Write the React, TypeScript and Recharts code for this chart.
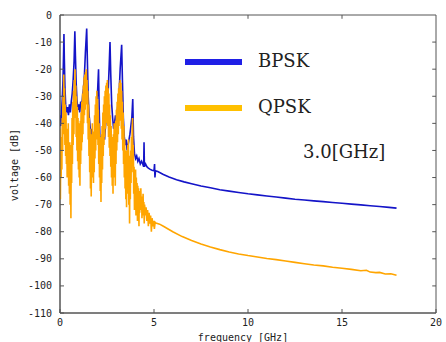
import React from 'react';
import { LineChart, Line, XAxis, YAxis, ReferenceArea, ReferenceLine } from 'recharts';

// BPSK spectrum, 0-5 GHz (spiky part) [GHz, dB]
const bpskLow: [number, number][] = [
  [0.0, -37], [0.04, -41], [0.08, -36], [0.12, -31], [0.16, -24], [0.19, -14], [0.21, -7], [0.23, -16],
  [0.26, -26], [0.3, -33], [0.35, -36], [0.4, -34], [0.45, -37], [0.5, -33], [0.55, -36], [0.6, -32],
  [0.65, -29], [0.7, -24], [0.75, -17], [0.79, -6], [0.82, -15], [0.86, -25], [0.9, -31], [0.95, -35],
  [1.0, -33], [1.05, -36], [1.1, -32], [1.15, -34], [1.2, -30], [1.25, -27], [1.3, -22], [1.35, -14],
  [1.42, -5], [1.46, -18], [1.5, -30], [1.55, -37], [1.6, -41], [1.65, -45], [1.7, -42], [1.75, -47],
  [1.8, -49], [1.85, -45], [1.9, -40], [1.95, -34], [2.0, -28], [2.05, -20], [2.08, -33], [2.12, -45],
  [2.17, -49], [2.22, -51], [2.27, -47], [2.32, -44], [2.37, -46], [2.42, -41], [2.47, -38], [2.52, -33],
  [2.57, -27], [2.62, -18], [2.66, -10], [2.7, -22], [2.75, -33], [2.8, -38], [2.85, -42], [2.9, -40],
  [2.95, -37], [3.0, -39], [3.05, -35], [3.1, -32], [3.15, -28], [3.2, -20], [3.28, -11], [3.32, -24],
  [3.37, -38], [3.42, -45], [3.47, -48], [3.52, -46], [3.57, -50], [3.62, -48], [3.67, -46], [3.72, -44],
  [3.77, -41], [3.82, -38], [3.87, -31], [3.91, -45], [3.96, -51], [4.02, -53], [4.08, -52], [4.14, -54],
  [4.2, -53], [4.27, -55], [4.34, -54], [4.4, -55], [4.45, -56], [4.47, -47], [4.49, -56], [4.55, -55],
  [4.62, -56], [4.7, -56.5], [4.8, -57], [4.9, -57.3], [5.0, -57.5], [5.03, -55], [5.05, -60], [5.08, -57.5],
];

// BPSK smooth tail
const bpskTail: [number, number][] = [
  [5.2, -57.8], [5.5, -58.9], [5.8, -59.8], [6.2, -60.8], [6.6, -61.6], [7.0, -62.3], [7.5, -63.1],
  [8.0, -63.8], [8.5, -64.5], [9.0, -65.0], [9.5, -65.5], [10.0, -66.0], [10.5, -66.4], [11.0, -66.8],
  [11.5, -67.2], [12.0, -67.6], [12.5, -68.0], [13.0, -68.3], [13.5, -68.6], [14.0, -68.9], [14.5, -69.2],
  [15.0, -69.5], [15.5, -69.8], [16.0, -70.1], [16.5, -70.4], [17.0, -70.7], [17.5, -71.0], [17.9, -71.3],
];

// QPSK spectrum, 0-5 GHz (noisy part)
const qpskLow: [number, number][] = [
  [0.0, -42], [0.02, -68], [0.04, -48], [0.06, -60], [0.08, -45], [0.1, -57], [0.12, -38], [0.14, -50],
  [0.16, -30], [0.18, -44], [0.2, -22], [0.22, -40], [0.24, -27], [0.26, -48], [0.28, -33], [0.3, -52],
  [0.32, -36], [0.34, -55], [0.36, -42], [0.38, -60], [0.4, -45], [0.42, -58], [0.44, -40], [0.46, -63],
  [0.48, -50], [0.5, -66], [0.52, -47], [0.54, -70], [0.56, -52], [0.58, -75], [0.6, -48], [0.62, -62],
  [0.64, -38], [0.66, -55], [0.68, -32], [0.7, -48], [0.72, -28], [0.74, -44], [0.76, -24], [0.78, -38],
  [0.8, -20], [0.82, -36], [0.84, -26], [0.86, -45], [0.88, -30], [0.9, -50], [0.92, -34], [0.94, -54],
  [0.96, -38], [0.98, -57], [1.0, -40], [1.02, -60], [1.04, -42], [1.06, -63], [1.08, -39], [1.1, -55],
  [1.12, -36], [1.14, -50], [1.16, -32], [1.18, -47], [1.2, -29], [1.22, -44], [1.24, -26], [1.26, -40],
  [1.28, -23], [1.3, -37], [1.32, -22], [1.34, -35], [1.36, -21], [1.38, -33], [1.4, -20], [1.42, -30],
  [1.44, -24], [1.46, -40], [1.48, -28], [1.5, -46], [1.52, -33], [1.54, -52], [1.56, -38], [1.58, -58],
  [1.6, -42], [1.62, -64], [1.64, -46], [1.66, -67], [1.68, -44], [1.7, -60], [1.72, -40], [1.74, -56],
  [1.76, -43], [1.78, -62], [1.8, -45], [1.82, -58], [1.84, -37], [1.86, -53], [1.88, -33], [1.9, -50],
  [1.92, -30], [1.94, -46], [1.96, -28], [1.98, -44], [2.0, -31], [2.02, -48], [2.04, -35], [2.06, -55],
  [2.08, -40], [2.1, -60], [2.12, -45], [2.14, -65], [2.16, -48], [2.18, -69], [2.2, -44], [2.22, -62],
  [2.24, -41], [2.26, -57], [2.28, -36], [2.3, -52], [2.32, -33], [2.34, -48], [2.36, -30], [2.38, -45],
  [2.4, -28], [2.42, -42], [2.44, -26], [2.46, -40], [2.48, -25], [2.5, -38], [2.52, -24], [2.54, -41],
  [2.56, -27], [2.58, -45], [2.6, -29], [2.62, -49], [2.64, -33], [2.66, -52], [2.68, -37], [2.7, -56],
  [2.72, -41], [2.74, -60], [2.76, -45], [2.78, -63], [2.8, -47], [2.82, -66], [2.84, -44], [2.86, -60],
  [2.88, -40], [2.9, -57], [2.92, -42], [2.94, -63], [2.96, -39], [2.98, -55], [3.0, -35], [3.02, -50],
  [3.04, -32], [3.06, -47], [3.08, -29], [3.1, -44], [3.12, -27], [3.14, -41], [3.16, -25], [3.18, -39],
  [3.2, -24], [3.22, -38], [3.24, -25], [3.26, -42], [3.28, -28], [3.3, -46], [3.32, -32], [3.34, -50],
  [3.36, -36], [3.38, -55], [3.4, -41], [3.42, -60], [3.44, -46], [3.46, -64], [3.48, -50], [3.5, -68],
  [3.52, -53], [3.54, -71], [3.56, -50], [3.58, -66], [3.6, -48], [3.62, -62], [3.64, -46], [3.66, -70],
  [3.68, -52], [3.7, -77], [3.72, -55], [3.74, -68], [3.76, -50], [3.78, -62], [3.8, -45], [3.82, -58],
  [3.84, -42], [3.86, -38], [3.88, -55], [3.9, -48], [3.92, -66], [3.94, -56], [3.96, -72], [3.98, -58],
  [4.0, -68], [4.02, -57], [4.04, -74], [4.06, -60], [4.08, -70], [4.1, -62], [4.12, -76], [4.14, -63],
  [4.16, -72], [4.18, -64], [4.2, -78], [4.22, -65], [4.24, -73], [4.26, -66], [4.28, -70], [4.3, -64],
  [4.32, -72], [4.34, -67], [4.36, -75], [4.38, -68], [4.4, -71], [4.42, -66], [4.44, -74], [4.46, -69],
  [4.48, -77], [4.5, -70], [4.54, -74], [4.58, -71], [4.62, -76], [4.66, -72], [4.7, -78], [4.74, -73],
  [4.78, -77], [4.82, -74], [4.86, -80], [4.9, -75], [4.94, -78], [4.98, -76], [5.02, -79], [5.06, -76.5],
];

// QPSK smooth tail
const qpskTail: [number, number][] = [
  [5.1, -76.8], [5.3, -77.2], [5.5, -78.0], [5.75, -79.0], [6.0, -80.0], [6.5, -81.8], [7.0, -83.2],
  [7.5, -84.5], [8.0, -85.6], [8.5, -86.6], [9.0, -87.5], [9.5, -88.2], [10.0, -88.8], [10.5, -89.3],
  [11.0, -89.9], [11.5, -90.3], [12.0, -90.8], [12.5, -91.3], [13.0, -91.8], [13.5, -92.3], [14.0, -92.6],
  [14.5, -93.1], [15.0, -93.5], [15.5, -93.9], [16.0, -94.4], [16.3, -94.2], [16.5, -94.9], [16.8, -95.1],
  [17.0, -95.0], [17.3, -95.6], [17.6, -95.5], [17.9, -96.1],
];

const xTicks = [0, 5, 10, 15, 20];
const yTicks = [0, -10, -20, -30, -40, -50, -60, -70, -80, -90, -100, -110];
const X_MAX = 20;
const Y_MIN = -110;
const Y_MAX = 0;

const toRows = (pts: [number, number][]) => pts.map(([f, v]) => ({ f, v }));
const bpsk = toRows([...bpskLow, ...bpskTail]);
const qpsk = toRows([...qpskLow, ...qpskTail]);

const AXIS = '#555';
const tickFont = { fontFamily: 'DejaVu Sans Mono', fontSize: 10, fill: '#222' };

export default function App() {
  return (
    <div style={{ position: 'absolute', left: 0, top: 0, width: 446, height: 342, background: '#fff' }}>
      <LineChart width={446} height={342} margin={{ top: 15, right: 10, bottom: 0, left: 0 }}>
        <XAxis
          dataKey="f"
          type="number"
          domain={[0, X_MAX]}
          ticks={xTicks}
          height={29}
          tickSize={-4}
          tickMargin={10}
          stroke={AXIS}
          tick={tickFont}
          allowDataOverflow
        />
        <YAxis
          dataKey="v"
          type="number"
          domain={[Y_MIN, Y_MAX]}
          ticks={yTicks}
          width={60}
          tickSize={-4}
          tickMargin={12}
          stroke={AXIS}
          tick={tickFont}
          allowDataOverflow
        />
        {/* box frame with small inward ticks on top and right */}
        <ReferenceArea x1={0} x2={X_MAX} y1={Y_MIN} y2={Y_MAX} fill="none" stroke={AXIS} strokeWidth={1} />
        {xTicks.slice(1, -1).map((t) => (
          <ReferenceLine
            key={`tx${t}`}
            segment={[{ x: t, y: Y_MAX }, { x: t, y: Y_MAX - 1.4 }]}
            stroke={AXIS}
          />
        ))}
        {yTicks.slice(1, -1).map((t) => (
          <ReferenceLine
            key={`ty${t}`}
            segment={[{ x: X_MAX, y: t }, { x: X_MAX - 0.2, y: t }]}
            stroke={AXIS}
          />
        ))}
        <Line data={bpsk} dataKey="v" stroke="#1414c8" strokeWidth={1.6} dot={false} isAnimationActive={false} />
        <Line data={qpsk} dataKey="v" stroke="#ffa500" strokeWidth={1.6} dot={false} isAnimationActive={false} />
      </LineChart>
      <svg width={446} height={342} style={{ position: 'absolute', left: 0, top: 0, pointerEvents: 'none' }}>
        <text
          transform="translate(18,165) rotate(-90)"
          textAnchor="middle"
          fontFamily="DejaVu Sans Mono"
          fontSize={10}
          fill="#222"
        >
          voltage [dB]
        </text>
        <text x={243} y={341} textAnchor="middle" fontFamily="DejaVu Sans Mono" fontSize={10} fill="#222">
          frequency [GHz]
        </text>
        <line x1={185} y1={62} x2={242} y2={62} stroke="#1f1fe6" strokeWidth={6} />
        <text x={258} y={67} fontFamily="DejaVu Serif" fontSize={18} fill="#222">BPSK</text>
        <line x1={185} y1={108} x2={242} y2={108} stroke="#ffc000" strokeWidth={6} />
        <text x={258} y={113} fontFamily="DejaVu Serif" fontSize={18} fill="#222">QPSK</text>
        <text x={303} y={158} fontFamily="DejaVu Serif" fontSize={18} fill="#222">3.0[GHz]</text>
      </svg>
    </div>
  );
}
